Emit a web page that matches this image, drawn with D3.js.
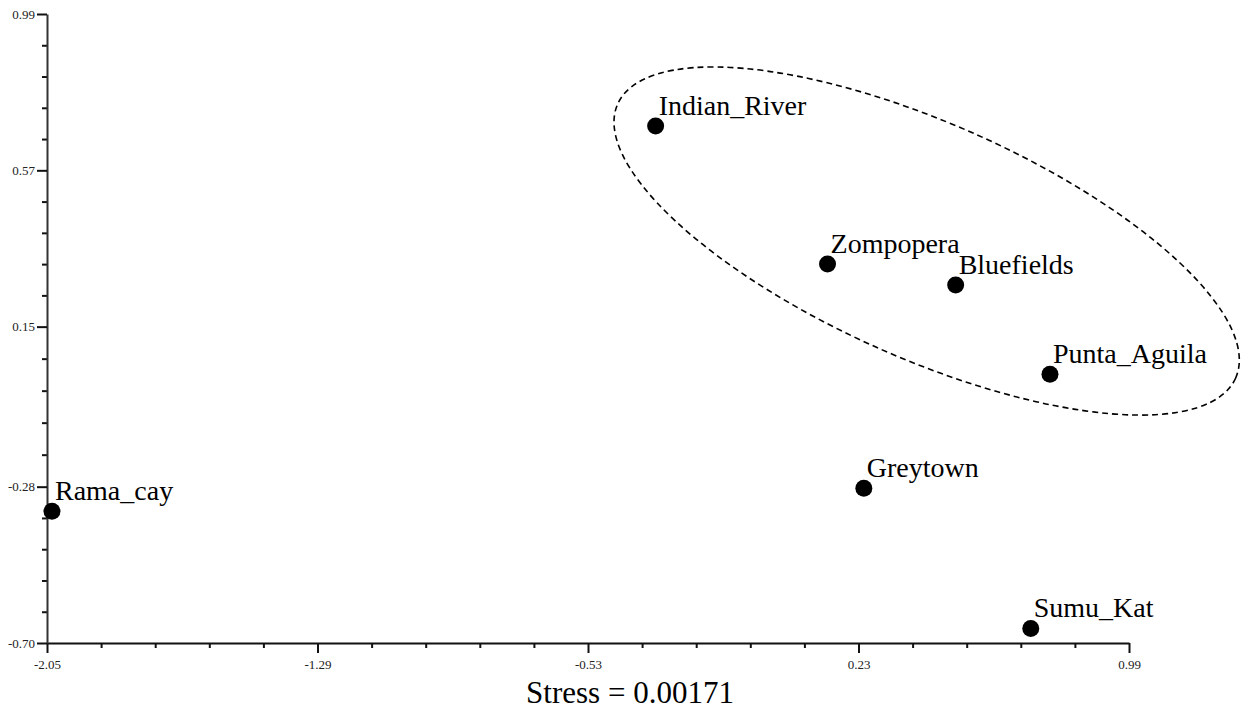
<!DOCTYPE html>
<html>
<head>
<meta charset="utf-8">
<script src="https://cdn.jsdelivr.net/npm/d3@7"></script>
<style>
  html, body { margin: 0; padding: 0; background: #fff; }
  svg { display: block; }
  svg text { font-family: "Liberation Serif", "Times New Roman", Times, serif !important; }
</style>
</head>
<body>
<svg id="chart" width="1244" height="711"></svg>
<script>
// ---- data ----
const sites = ["Rama_cay", "Indian_River", "Zompopera", "Bluefields", "Punta_Aguila", "Greytown", "Sumu_Kat"];
const dim1 = [-2.036, -0.340, 0.143, 0.503, 0.768, 0.245, 0.714];
const dim2 = [-0.346, 0.689, 0.318, 0.262, 0.022, -0.284, -0.661];
const xTickLabels = ["-2.05", "-1.29", "-0.53", "0.23", "0.99"];
const yTickLabels = ["-0.70", "-0.28", "0.15", "0.57", "0.99"];
const stressText = "Stress = 0.00171";
// group ellipse: centre in data units
const ellipseCentre = [0.4215, 0.380];

const FONT = "'Liberation Serif', 'Times New Roman', Times, serif";
const svg = d3.select("#chart");
const x = d3.scaleLinear().domain([-2.05, 0.99]).range([47, 1129]);
const y = d3.scaleLinear().domain([-0.70, 0.99]).range([643, 14]);

const xMajor = xTickLabels.map(Number);
const yMajor = yTickLabels.map(Number);
function minors(major) {
  const out = [];
  for (let i = 0; i < major.length - 1; i++) {
    const step = (major[i + 1] - major[i]) / 5;
    for (let k = 1; k < 5; k++) out.push(major[i] + step * k);
  }
  return out;
}

// minor ticks
svg.append("g").attr("transform", `translate(0,${y(-0.70)})`)
  .call(d3.axisBottom(x).tickValues(minors(xMajor)).tickSize(5).tickFormat(""))
  .call(g => g.select(".domain").remove())
  .call(g => g.selectAll("line").attr("stroke", "#111").attr("stroke-width", 2));
svg.append("g").attr("transform", `translate(${x(-2.05)},0)`)
  .call(d3.axisLeft(y).tickValues(minors(yMajor)).tickSize(5).tickFormat(""))
  .call(g => g.select(".domain").remove())
  .call(g => g.selectAll("line").attr("stroke", "#111").attr("stroke-width", 2));

// major axes
const xAxis = svg.append("g").attr("transform", `translate(0,${y(-0.70)})`)
  .call(d3.axisBottom(x).tickValues(xMajor).tickSize(10).tickSizeOuter(0)
        .tickFormat((d, i) => xTickLabels[i]).tickPadding(7));
xAxis.attr("font-family", FONT);
xAxis.select(".domain").attr("stroke", "#111").attr("stroke-width", 2);
xAxis.selectAll("line").attr("stroke", "#111").attr("stroke-width", 2);
xAxis.selectAll("text").style("font-family", FONT).attr("font-size", 13).attr("fill", "#222");

const yAxis = svg.append("g").attr("transform", `translate(${x(-2.05)},0)`)
  .call(d3.axisLeft(y).tickValues(yMajor).tickSize(10).tickSizeOuter(0)
        .tickFormat((d, i) => yTickLabels[i]).tickPadding(2));
yAxis.attr("font-family", FONT);
yAxis.select(".domain").attr("stroke", "#333").attr("stroke-width", 2);
yAxis.selectAll("line").attr("stroke", "#111").attr("stroke-width", 2);
yAxis.selectAll("text").style("font-family", FONT).attr("font-size", 13).attr("fill", "#222");

// dashed ellipse
const cx = x(ellipseCentre[0]), cy = y(ellipseCentre[1]);
svg.append("ellipse")
  .attr("cx", 0).attr("cy", 0).attr("rx", 338).attr("ry", 117.5)
  .attr("transform", `translate(${cx},${cy}) rotate(23.9)`)
  .attr("fill", "none").attr("stroke", "#000").attr("stroke-width", 1.6)
  .attr("stroke-dasharray", "6,4");

// clip for labels
svg.append("clipPath").attr("id", "lblclip")
  .append("rect").attr("x", 0).attr("y", 0).attr("width", 1210).attr("height", 711);

const pts = sites.map((s, i) => ({ name: s, a: dim1[i], b: dim2[i] }));
svg.append("g").selectAll("circle").data(pts).join("circle")
  .attr("cx", d => x(d.a)).attr("cy", d => y(d.b)).attr("r", 8.5).attr("fill", "#000");

svg.append("g").attr("clip-path", "url(#lblclip)").selectAll("text").data(pts).join("text")
  .attr("x", d => x(d.a) + 3).attr("y", d => y(d.b) - 11)
  .style("font-family", FONT)
  .attr("font-size", 28).attr("fill", "#000")
  .text(d => d.name);

svg.append("text").attr("x", (x(-2.05) + x(0.99)) / 2 + 42).attr("y", 703)
  .attr("text-anchor", "middle").style("font-family", FONT)
  .attr("font-size", 31).attr("fill", "#000")
  .text(stressText);
</script>
</body>
</html>
